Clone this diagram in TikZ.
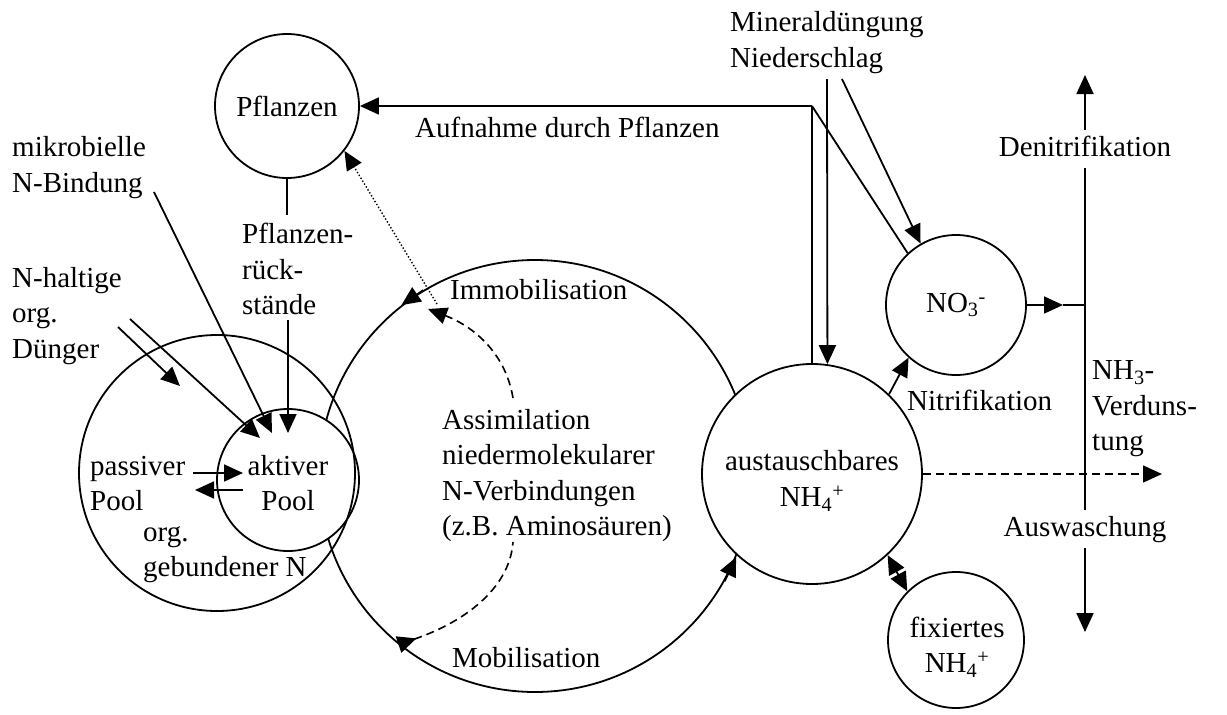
\documentclass[tikz,border=0pt]{standalone}
\usepackage{fontspec}
\setmainfont{Liberation Serif}
\usetikzlibrary{arrows.meta}
\begin{document}
\begin{tikzpicture}[x=1pt,y=-1pt,
  every node/.style={font=\fontsize{29}{35.5}\selectfont},
  pool/.style={circle,draw,line width=1.8pt,inner sep=0pt,fill=white},
  ring/.style={circle,draw,line width=1.8pt,inner sep=0pt},
  lbl/.style={inner sep=0pt,align=left,anchor=west},
  ctr/.style={inner sep=0pt,align=center},
  gapnode/.style={inner sep=6pt,text height=20pt,text depth=6pt},
  flow/.style={line width=1.8pt},
  dashflow/.style={line width=1.6pt,dash pattern=on 8pt off 5pt},
  >={Triangle[length=19pt,width=17pt]},
]
\useasboundingbox (0,0) rectangle (1227,715);

% pools of soil nitrogen
\node[pool,minimum size=432pt] (mid) at (535,476) {};
\node[pool,minimum size=142pt] (akt) at (288,480) {};
\node[ring,minimum size=276pt] (org) at (217,473) {};
\node[pool,minimum size=220pt] (aus) at (812,474) {};
\node[pool,minimum size=144pt] (pfl) at (287,106) {Pflanzen};
\node[pool,minimum size=140pt] (no3) at (956,305) {NO\textsubscript{3}\textsuperscript{-}};
\node[pool,minimum size=136pt] (fix) at (956,640) {};

% labels
\node[ctr] (akttxt) at (288,483) {aktiver\\Pool};
\node[ctr] (austxt) at (812,481) {austauschbares\\NH\textsubscript{4}\textsuperscript{+}};
\node[ctr] (fixtxt) at (957,647) {fixiertes\\NH\textsubscript{4}\textsuperscript{+}};
\node[lbl] (mik) at (12,167.5) {mikrobielle\\N-Bindung};
\node[lbl] (nhal) at (12,316) {N-haltige\\org.\\Dünger};
\node[lbl] (pflr) at (242,269) {Pflanzen-\\rück-\\stände};
\node[lbl] (pass) at (90,483.5) {passiver\\Pool};
\node[lbl] (orgN) at (143,554.5) {org.\\gebundener N};
\node[lbl] (immo) at (450,290) {Immobilisation};
\node[lbl] (assim) at (442,475.5) {Assimilation\\niedermolekularer\\N-Verbindungen\\(z.B. Aminosäuren)};
\node[lbl] (mobi) at (452,658) {Mobilisation};
\node[lbl] (aufn) at (415,127) {Aufnahme durch Pflanzen};
\node[lbl] (miner) at (730,42.5) {Mineraldüngung\\Niederschlag};
\node[lbl] (nh3) at (1092,409) {NH\textsubscript{3}-\\Verduns-\\tung};
\node[lbl] (nitr) at (907,400) {Nitrifikation};
\node[gapnode] (denit) at (1085,149) {Denitrifikation};
\node[gapnode] (ausw) at (1085,529) {Auswaschung};

% free ends of the connectors
\coordinate (mikS) at (154,192);
\coordinate (mikE) at (272,433);
\coordinate (dueA) at (118,327);
\coordinate (dueAE) at (180,386);
\coordinate (dueB) at (130,319);
\coordinate (dueBE) at (260,438);
\coordinate (resS) at (288,320);
\coordinate (resE) at (288,433);
\coordinate (pflB) at (287,215);
\coordinate (pa1) at (193,473);
\coordinate (pa2) at (243,473);
\coordinate (ap1) at (243,490);
\coordinate (ap2) at (195,490);
\coordinate (dotS) at (437,304);
\coordinate (dtop) at (513,398);
\coordinate (dtopE) at (428,309);
\coordinate (dbot) at (513,542);
\coordinate (corner) at (812,106);
\coordinate (m1) at (827,79);
\coordinate (m2) at (842,79);
\coordinate (no3tip) at (1063,305);
\coordinate (j1) at (1085,305);
\coordinate (vtop) at (1085,75);
\coordinate (vbot) at (1085,632);
\coordinate (leach) at (1162,474);

% inputs to the active pool
\draw[flow,->] (mikS) -- (mikE);
\draw[flow,->] (dueA) -- (dueAE);
\draw[flow,->] (dueB) -- (dueBE);
\draw[flow,->] (resS) -- (resE);
\draw[flow] (pfl.south) -- (pflB);
\draw[flow,->] (pa1) -- (pa2);
\draw[flow,->] (ap1) -- (ap2);

% immobilisation / mobilisation along the turnover ring
\draw[flow,->] (mid.121) -- (mid.128);
\draw[flow,->] (mid.-29) -- (mid.-22);
\draw[dashflow,->] (dtop) .. controls (505,350) and (470,325) .. (dtopE);
\draw[dashflow,{Triangle[reversed,length=19pt,width=17pt]}-] (mid.231) .. controls (470,620) and (510,585) .. (dbot);
\draw[line width=1.4pt,dotted,->] (dotS) -- (pfl.-38);

% plant uptake
\draw[flow] (aus.north) -- (corner);
\draw[flow] (no3.133) -- (corner);
\draw[flow,->] (corner) -- (pfl.east);

% mineral inputs
\draw[flow,->] (m1) -- (aus.82);
\draw[flow,->] (m2) -- (no3.120);

% transformations and losses
\draw[flow,->] (aus.46) -- (no3.228);
\draw[flow,<->] (aus.-47) -- (fix.135);
\draw[flow,->] (no3.east) -- (no3tip);
\draw[flow] (no3tip) -- (j1);
\draw[flow,->] (denit) -- (vtop);
\draw[flow] (denit) -- (ausw);
\draw[flow,->] (ausw) -- (vbot);
\draw[dashflow,->] (aus.east) -- (leach);
\end{tikzpicture}
\end{document}
